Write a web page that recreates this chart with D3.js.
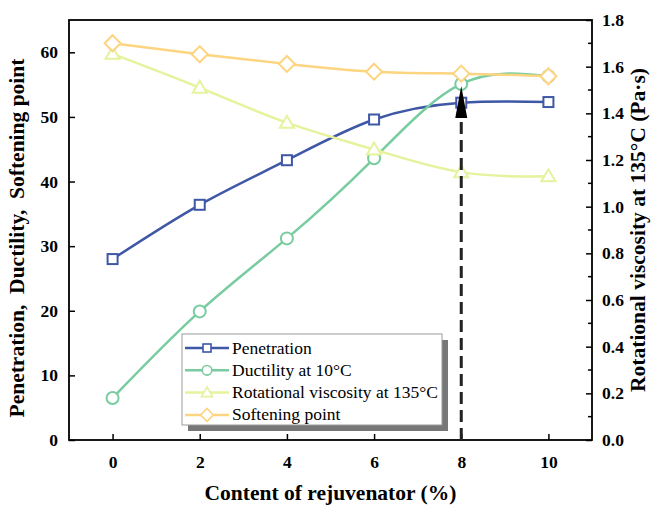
<!DOCTYPE html>
<html>
<head>
<meta charset="utf-8">
<script src="https://cdn.jsdelivr.net/npm/d3@7"></script>
<style>
body { margin: 0; background: #fff; }
text { font-family: "Liberation Serif", "Times New Roman", serif; }
</style>
</head>
<body>
<script>
var content = [0, 2, 4, 6, 8, 10];
var penetration = [28.0, 36.4, 43.3, 49.6, 52.2, 52.3];
var ductility = [6.5, 19.9, 31.2, 43.6, 55.1, 56.3];
var viscosity = [1.655, 1.51, 1.36, 1.245, 1.148, 1.13];
var softening = [61.4, 59.7, 58.2, 57.0, 56.7, 56.3];
var leftTicks = [0, 10, 20, 30, 40, 50, 60];
var rightTicks = [0, 0.2, 0.4, 0.6, 0.8, 1.0, 1.2, 1.4, 1.6, 1.8];
var xTicks = [0, 2, 4, 6, 8, 10];

var w = 652, h = 506;
var pL = 69, pR = 592, pT = 20, pB = 440;

var svg = d3.select("body").append("svg")
  .attr("width", w).attr("height", h);

var x = d3.scaleLinear().domain([-1, 11]).range([pL, pR]);
var yL = d3.scaleLinear().domain([0, 65]).range([pB, pT]);
var yR = d3.scaleLinear().domain([0, 1.8]).range([pB, pT]);

// axes
var bold = function(g) {
  g.selectAll("text").style("font-family", "Liberation Serif").style("font-weight", "bold").style("font-size", "17.5px").attr("fill", "#000");
  g.selectAll("line").attr("stroke", "#000").attr("stroke-width", 1.5);
  g.select(".domain").remove();
};

svg.append("g").attr("transform", "translate(0," + pB + ")")
  .call(d3.axisBottom(x).tickValues(xTicks).tickSizeInner(-6).tickPadding(16))
  .call(bold);

svg.append("g").attr("transform", "translate(" + pL + ",0)")
  .call(d3.axisLeft(yL).tickValues(leftTicks).tickSizeInner(-6).tickPadding(11))
  .call(bold);

svg.append("g").attr("transform", "translate(" + pR + ",0)")
  .call(d3.axisRight(yR).tickValues(rightTicks).tickFormat(d3.format(".1f")).tickSizeInner(-6).tickPadding(10))
  .call(bold);

// minor ticks on right axis
svg.append("g").selectAll("line")
  .data(d3.range(0.1, 1.8, 0.2))
  .enter().append("line")
  .attr("x1", pR - 4).attr("x2", pR)
  .attr("y1", function(d) { return yR(d); })
  .attr("y2", function(d) { return yR(d); })
  .attr("stroke", "#000").attr("stroke-width", 1.5);

svg.append("rect")
  .attr("x", pL).attr("y", pT)
  .attr("width", pR - pL).attr("height", pB - pT)
  .attr("fill", "none").attr("stroke", "#000").attr("stroke-width", 1.8);

var series = [
  {name: "Penetration", values: penetration, scale: yL, color: "#3e57a6", shape: "square"},
  {name: "Ductility at 10\u00b0C", values: ductility, scale: yL, color: "#78cc9f", shape: "circle"},
  {name: "Rotational viscosity at 135\u00b0C", values: viscosity, scale: yR, color: "#e6f29c", shape: "triangle"},
  {name: "Softening point", values: softening, scale: yL, color: "#fdd47f", shape: "diamond"}
];

function marker(g, shape, color) {
  if (shape === "square") {
    g.append("rect").attr("x", -5).attr("y", -5).attr("width", 10).attr("height", 10);
  } else if (shape === "circle") {
    g.append("circle").attr("r", 6);
  } else if (shape === "triangle") {
    g.append("path").attr("d", "M0,-7L7,5L-7,5Z");
  } else {
    g.append("path").attr("d", "M0,-8L8,0L0,8L-8,0Z");
  }
  g.selectAll("*").attr("fill", "#fff").attr("stroke", color).attr("stroke-width", 2);
}

series.forEach(function(s) {
  var pts = content.map(function(c, i) { return [x(c), s.scale(s.values[i])]; });
  svg.append("path")
    .attr("d", d3.line().curve(d3.curveNatural)(pts))
    .attr("fill", "none").attr("stroke", s.color).attr("stroke-width", 2.5);
});

series.forEach(function(s) {
  svg.append("g").selectAll("g")
    .data(s.values)
    .enter().append("g")
    .attr("transform", function(d, i) { return "translate(" + x(content[i]) + "," + s.scale(d) + ")"; })
    .each(function() { marker(d3.select(this), s.shape, s.color); });
});

// arrow at 8%
svg.append("line")
  .attr("x1", x(8)).attr("x2", x(8))
  .attr("y1", pB).attr("y2", 116)
  .attr("stroke", "#222").attr("stroke-width", 3)
  .attr("stroke-dasharray", "12,6");
svg.append("path")
  .attr("d", "M" + x(8) + ",86L" + (x(8) + 6) + ",118L" + (x(8) - 6) + ",118Z")
  .attr("fill", "#000");

// legend
var lx = 182, ly = 334, lw = 260, lh = 91;
svg.append("rect").attr("x", lx + 6).attr("y", ly + 6).attr("width", lw).attr("height", lh).attr("fill", "#777");
svg.append("rect").attr("x", lx).attr("y", ly).attr("width", lw).attr("height", lh)
  .attr("fill", "#fff").attr("stroke", "#999").attr("stroke-width", 1);

series.forEach(function(s, i) {
  var yy = ly + 14 + i * 22.3;
  svg.append("line").attr("x1", lx + 3).attr("x2", lx + 47).attr("y1", yy).attr("y2", yy)
    .attr("stroke", s.color).attr("stroke-width", 2.5);
  var g = svg.append("g");
  marker(g, s.shape, s.color);
  g.attr("transform", "translate(" + (lx + 25) + "," + yy + ") scale(0.8)");
  svg.append("text").attr("x", lx + 50).attr("y", yy + 5.5)
    .style("font-size", "17.5px").text(s.name);
});

// titles
svg.append("text")
  .attr("transform", "translate(24," + ((pT + pB) / 2 + 8) + ") rotate(-90)")
  .attr("text-anchor", "middle")
  .style("white-space", "pre")
  .style("font-weight", "bold").style("font-size", "21.5px")
  .text("Penetration,  Ductility,  Softening point");

svg.append("text")
  .attr("transform", "translate(645," + ((pT + pB) / 2) + ") rotate(-90)")
  .attr("text-anchor", "middle")
  .style("font-weight", "bold").style("font-size", "21.5px")
  .text("Rotational viscosity at 135\u00b0C (Pa\u00b7s)");

svg.append("text")
  .attr("x", (pL + pR) / 2).attr("y", 500)
  .attr("text-anchor", "middle")
  .style("font-weight", "bold").style("font-size", "21.5px")
  .text("Content of rejuvenator (%)");
</script>
</body>
</html>
